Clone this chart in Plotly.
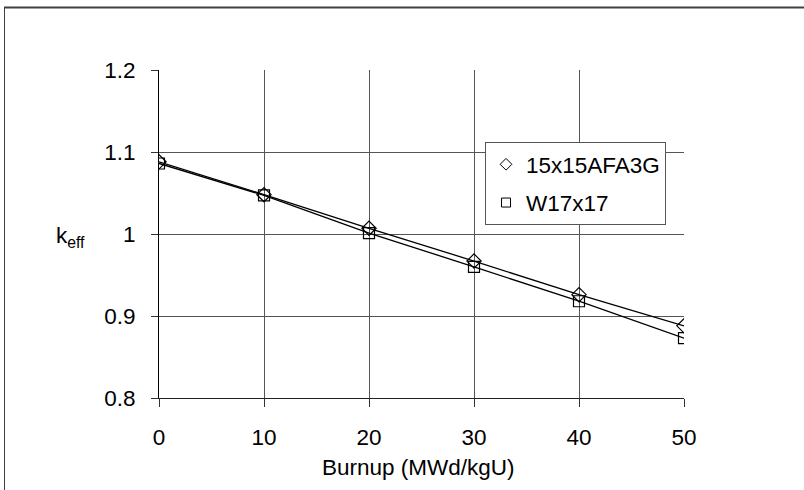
import plotly.graph_objects as go

burnup = [0, 10, 20, 30, 40, 50]
k_afa = [1.088, 1.048, 1.007, 0.967, 0.926, 0.888]
k_w17 = [1.086, 1.047, 1.001, 0.960, 0.918, 0.873]
series_names = ["15x15AFA3G", "W17x17"]
x_ticks = [0, 10, 20, 30, 40, 50]
y_ticks = [0.8, 0.9, 1.0, 1.1, 1.2]
y_tick_labels = ["0.8", "0.9", "1", "1.1", "1.2"]

FONT = "Liberation Sans, Arial, sans-serif"
FS = 22.5
fig = go.Figure()

for ys, sym, name, grp in [(k_afa, "diamond-open", series_names[0], "a"),
                           (k_w17, "square-open", series_names[1], "b")]:
    fig.add_trace(go.Scatter(x=burnup, y=ys, mode="lines+markers",
                             line=dict(color="black", width=1.3),
                             marker=dict(symbol=sym, size=11, color="black",
                                         line=dict(width=1.2, color="black")),
                             showlegend=False, hoverinfo="skip"))
    fig.add_trace(go.Scatter(x=[None], y=[None], mode="markers", name=name,
                             legendgroup=grp,
                             marker=dict(symbol=sym, size=9, color="black",
                                         line=dict(width=1, color="black"))))

fig.update_layout(
    width=804, height=490,
    margin=dict(l=159, r=120, t=70, b=92),
    paper_bgcolor="white", plot_bgcolor="white",
    font=dict(family=FONT, size=FS, color="black"),
    showlegend=True,
    legend=dict(x=0.621, y=0.78, xanchor="left", yanchor="top",
                bgcolor="white", bordercolor="#555", borderwidth=1,
                font=dict(size=FS), tracegroupgap=6, traceorder="grouped",
                itemwidth=30),
    xaxis=dict(range=[0, 50], tickvals=x_ticks, showgrid=True,
               gridcolor="#555", gridwidth=1, zeroline=False,
               showline=True, linecolor="#222", linewidth=1,
               ticks="outside", ticklen=8, tickcolor="#333",
               ticklabelstandoff=11, mirror=False),
    yaxis=dict(range=[0.8, 1.2], tickvals=y_ticks, ticktext=y_tick_labels,
               showgrid=True, gridcolor="#555", gridwidth=1, zeroline=False,
               showline=True, linecolor="#000", linewidth=1,
               ticks="outside", ticklen=7, tickcolor="#333",
               ticklabelstandoff=11),
    annotations=[
        dict(text="k<sub>eff</sub>", xref="paper", yref="paper",
             x=-0.2, y=0.49, xanchor="left", yanchor="middle",
             showarrow=False, font=dict(size=FS)),
        dict(text="Burnup (MWd/kgU)", xref="paper", yref="paper",
             x=0.495, y=-0.213, xanchor="center", yanchor="middle",
             showarrow=False, font=dict(size=FS)),
    ],
    shapes=[
        dict(type="line", xref="paper", yref="paper",
             x0=(4 - 159) / 525, x1=(810 - 159) / 525,
             y0=(398 - 7.5) / 328, y1=(398 - 7.5) / 328,
             line=dict(color="#404040", width=2)),
        dict(type="line", xref="paper", yref="paper",
             x0=(4.5 - 159) / 525, x1=(4.5 - 159) / 525,
             y0=(398 - 7) / 328, y1=(398 - 500) / 328,
             line=dict(color="#404040", width=1)),
    ],
)

fig.write_html("out.html")
